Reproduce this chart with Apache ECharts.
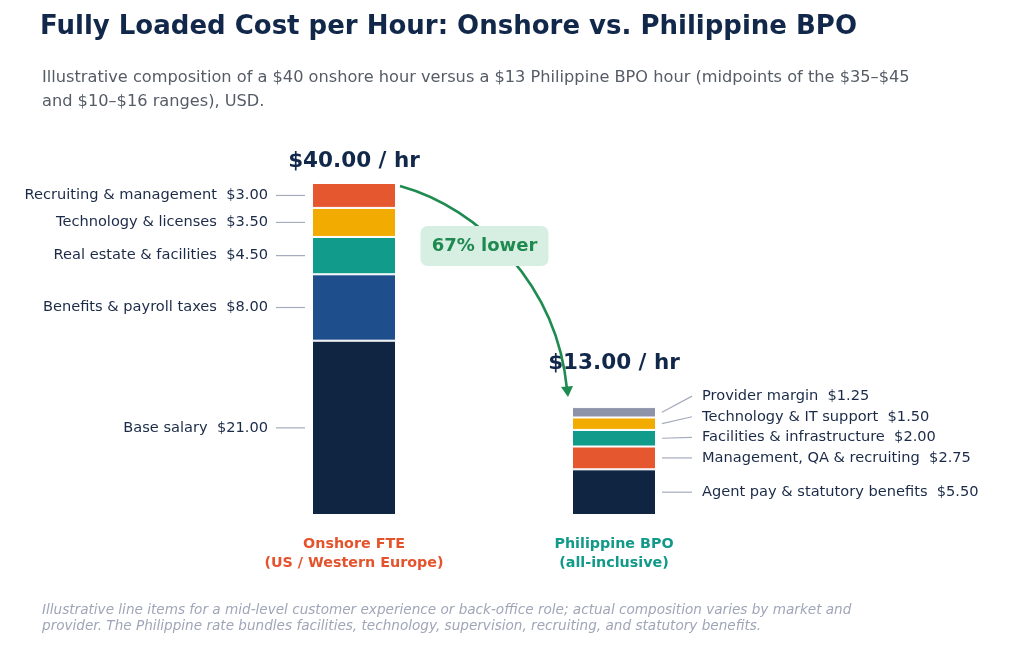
<!DOCTYPE html>
<html><head><meta charset="utf-8">
<script src="https://cdn.jsdelivr.net/npm/echarts@6/dist/echarts.min.js"></script>
<style>html,body{margin:0;padding:0;background:#fff}#c{width:1024px;height:649px}</style>
</head><body><div id="c"></div>
<script>
// ---- data ----
const categories = ['Onshore FTE\n(US / Western Europe)', 'Philippine BPO\n(all-inclusive)'];
const onshoreItems = ['Base salary', 'Benefits & payroll taxes', 'Real estate & facilities', 'Technology & licenses', 'Recruiting & management'];
const onshoreValues = [21, 8, 4.5, 3.5, 3];
const bpoItems = ['Agent pay & statutory benefits', 'Management, QA & recruiting', 'Facilities & infrastructure', 'Technology & IT support', 'Provider margin'];
const bpoValues = [5.5, 2.75, 2, 1.5, 1.25];
const totalLabels = ['$40.00 / hr', '$13.00 / hr'];
const reductionLabel = '67% lower';

// ---- styles ----
const FONT = '"DejaVu Sans", "Open Sans", sans-serif';
const NAVY = '#12284a';
const onshoreColors = ['#0f2542', '#1f4e8c', '#109b8b', '#f2ab00', '#e5572e'];
const bpoColors = ['#0f2542', '#e5572e', '#109b8b', '#f2ab00', '#8d93a8'];
const catColors = ['#e5532d', '#119a89'];
const BAR_W = 84;

const chart = echarts.init(document.getElementById('c'), null, {renderer: 'canvas'});
const fmt = v => '$' + v.toFixed(2);

const series = onshoreValues.map((v, i) => ({
  type: 'bar', stack: 'total', barWidth: BAR_W, silent: true,
  itemStyle: {borderColor: '#ffffff', borderWidth: 1},
  data: [
    {value: onshoreValues[i], itemStyle: {color: onshoreColors[i]}},
    {value: bpoValues[i], itemStyle: {color: bpoColors[i]}}
  ]
}));

const option = {
  animation: false,
  backgroundColor: '#ffffff',
  title: [
    {text: 'Fully Loaded Cost per Hour: Onshore vs. Philippine BPO', left: 35, top: 9,
     textStyle: {fontFamily: FONT, fontSize: 26, fontWeight: 'bold', color: NAVY}},
    {text: 'Illustrative composition of a $40 onshore hour versus a $13 Philippine BPO hour (midpoints of the $35–$45\nand $10–$16 ranges), USD.',
     left: 37, top: 61,
     textStyle: {fontFamily: FONT, fontSize: 16.2, fontWeight: 'normal', color: '#555c66', lineHeight: 24}},
    {text: 'Illustrative line items for a mid-level customer experience or back-office role; actual composition varies by market and\nprovider. The Philippine rate bundles facilities, technology, supervision, recruiting, and statutory benefits.',
     left: 37, top: 597,
     textStyle: {fontFamily: FONT, fontSize: 13.6, fontStyle: 'italic', fontWeight: 'normal', color: '#a0a6b8', lineHeight: 16}}
  ],
  grid: {left: 224, right: 280, top: 183, bottom: 134},
  xAxis: {
    type: 'category', data: categories,
    axisLine: {show: false}, axisTick: {show: false}, splitLine: {show: false},
    axisLabel: {
      margin: 20, interval: 0,
      formatter: (val, idx) => val.split('\n').map(l => '{c' + idx + '|' + l + '}').join('\n'),
      rich: {
        c0: {fontFamily: FONT, fontSize: 14.3, fontWeight: 'bold', color: catColors[0], lineHeight: 19},
        c1: {fontFamily: FONT, fontSize: 14.3, fontWeight: 'bold', color: catColors[1], lineHeight: 19}
      }
    }
  },
  yAxis: {type: 'value', min: 0, max: 40, show: false, splitLine: {show: false}},
  series: series
};
chart.setOption(option);

// ---- annotations computed from the chart's own scales ----
const px = (ci, v) => chart.convertToPixel({gridIndex: 0}, [ci, v]);
const g = [];
const labelStyle = {fontFamily: FONT, fontSize: 14.6, fill: '#1b2a47'};
const lineStyle = {stroke: '#a6abbd', lineWidth: 1.2};

// onshore (left labels)
let cum = 0;
onshoreValues.forEach((v, i) => {
  const c = px(0, cum + v / 2); cum += v;
  const left = c[0] - BAR_W / 2;
  g.push({type: 'line', shape: {x1: left - 36, y1: c[1], x2: left - 7, y2: c[1]}, style: lineStyle, silent: true});
  g.push({type: 'text', x: left - 44, y: c[1], style: Object.assign({}, labelStyle, {text: onshoreItems[i] + '  ' + fmt(v), align: 'right', verticalAlign: 'middle'}), silent: true});
});
const onTop = px(0, cum);
g.push({type: 'text', x: onTop[0], y: onTop[1] - 22, style: {text: totalLabels[0], fontFamily: FONT, fontSize: 21.5, fontWeight: 'bold', fill: NAVY, align: 'center', verticalAlign: 'middle'}, silent: true});

// BPO (right labels with spreading)
cum = 0;
const centers = bpoValues.map(v => { const c = px(1, cum + v / 2); cum += v; return c; });
const GAP = 20.6;
const ly = [];
centers.forEach((c, i) => { ly[i] = i === 0 ? c[1] : Math.min(c[1], ly[i - 1] - GAP); });
centers.forEach((c, i) => {
  const right = c[0] + BAR_W / 2;
  g.push({type: 'line', shape: {x1: right + 6, y1: c[1], x2: right + 36, y2: ly[i]}, style: lineStyle, silent: true});
  g.push({type: 'text', x: right + 46, y: ly[i], style: Object.assign({}, labelStyle, {text: bpoItems[i] + '  ' + fmt(bpoValues[i]), align: 'left', verticalAlign: 'middle'}), silent: true});
});
const bpoTop = px(1, cum);
g.push({type: 'text', x: bpoTop[0], y: bpoTop[1] - 44, style: {text: totalLabels[1], fontFamily: FONT, fontSize: 21.5, fontWeight: 'bold', fill: NAVY, align: 'center', verticalAlign: 'middle'}, silent: true});

// curved arrow
const sx = onTop[0] + BAR_W / 2 + 4, sy = onTop[1] + 3;
const ex = bpoTop[0] - BAR_W / 2 - 5, ey = bpoTop[1] - 12;
const GREEN = '#1e8c50';
g.push({type: 'bezierCurve', shape: {x1: sx, y1: sy, cpx1: sx + 80, cpy1: sy + 22, cpx2: ex - 10, cpy2: ey - 110, x2: ex, y2: ey - 6},
  style: {stroke: GREEN, lineWidth: 2.6, fill: null}, silent: true});
g.push({type: 'polygon', shape: {points: [[ex - 6, ey - 8], [ex + 6, ey - 9], [ex + 1, ey + 2]]}, style: {fill: GREEN}, silent: true});
// label box
const bx = (sx + ex) / 2 + 1, by = sy + 60;
g.push({type: 'rect', shape: {x: bx - 64, y: by - 20, width: 128, height: 40, r: 7}, style: {fill: '#d6efe2'}, silent: true, z: 10});
g.push({type: 'text', x: bx, y: by, z: 11, style: {text: reductionLabel, fontFamily: FONT, fontSize: 18, fontWeight: 'bold', fill: '#1f8a50', align: 'center', verticalAlign: 'middle'}, silent: true});

chart.setOption({graphic: {elements: g}});
</script></body></html>
